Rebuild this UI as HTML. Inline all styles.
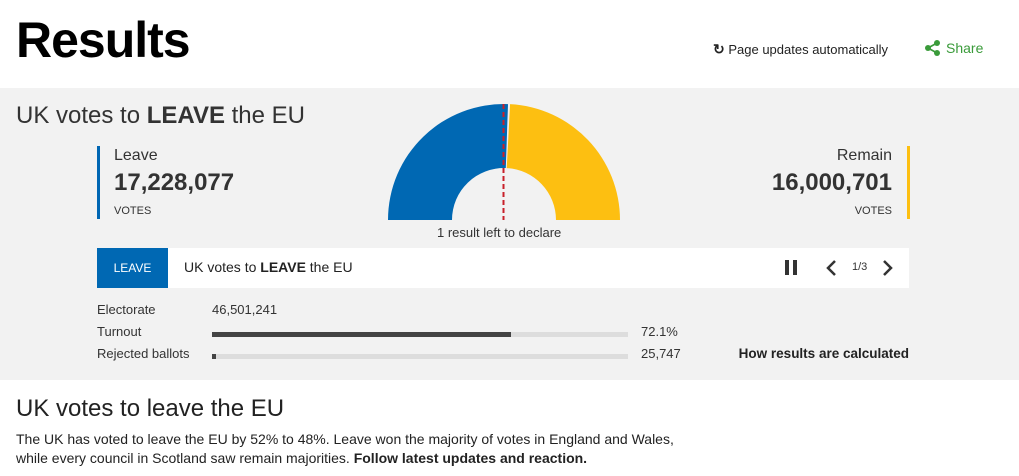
<!DOCTYPE html>
<html><head><meta charset="utf-8"><style>
*{margin:0;padding:0;box-sizing:border-box}
body{width:1019px;height:476px;background:#fff;font-family:"Liberation Sans",Arial,sans-serif;color:#222;position:relative;overflow:hidden}
.a{position:absolute;white-space:nowrap}
</style></head><body>
<div class="a" style="left:16px;top:11px;font-size:50px;font-weight:bold;color:#000;letter-spacing:-1px">Results</div>
<div class="a" style="left:713px;top:41px;font-size:13px;color:#222"><span style="font-weight:bold;font-size:14px">&#x21BB;</span> Page updates automatically</div>
<svg class="a" style="left:924px;top:39px" width="18" height="18" viewBox="0 0 18 18"><g fill="#3a9b3a" stroke="#3a9b3a" stroke-width="1.6"><line x1="4" y1="9" x2="13" y2="4"/><line x1="4" y1="9" x2="13" y2="14"/><circle cx="4" cy="9" r="3" stroke="none"/><circle cx="13" cy="4" r="3" stroke="none"/><circle cx="13" cy="14" r="3" stroke="none"/></g></svg>
<div class="a" style="left:946px;top:40px;font-size:14px;color:#3a9b3a">Share</div>

<div class="a" style="left:0;top:88px;width:1019px;height:292px;background:#f2f2f2"></div>
<div class="a" style="left:16px;top:102px;font-size:24px;color:#333">UK votes to <b>LEAVE</b> the EU</div>

<div class="a" style="left:97px;top:146px;width:3px;height:73px;background:#0066b3"></div>
<div class="a" style="left:114px;top:147px;font-size:16px;color:#333">Leave</div>
<div class="a" style="left:114px;top:169px;font-size:24px;font-weight:bold;color:#333">17,228,077</div>
<div class="a" style="left:114px;top:205px;font-size:11px;color:#333">VOTES</div>

<div class="a" style="left:907px;top:146px;width:3px;height:73px;background:#fdbf11"></div>
<div class="a" style="right:127px;top:147px;font-size:16px;color:#333">Remain</div>
<div class="a" style="right:127px;top:169px;font-size:24px;font-weight:bold;color:#333">16,000,701</div>
<div class="a" style="right:127px;top:205px;font-size:11px;color:#333">VOTES</div>

<svg class="a" style="left:0;top:0" width="1019" height="240">
<path d="M388 220 A116 116 0 0 1 508.0 104.07 L505.8 168.03 A52 52 0 0 0 452 220 Z" fill="#0068b3"/>
<path d="M510.07 104.16 A116 116 0 0 1 620 220 L556 220 A52 52 0 0 0 506.72 168.07 Z" fill="#fdbf11"/>
<line x1="503.5" y1="104" x2="503.5" y2="220" stroke="#c8202a" stroke-width="2" stroke-dasharray="5,3"/>
</svg>
<div class="a" style="left:437px;top:225px;font-size:13px;color:#333">1 result left to declare</div>

<div class="a" style="left:97px;top:248px;width:812px;height:40px;background:#fff"></div>
<div class="a" style="left:97px;top:248px;width:71px;height:40px;background:#0068b3;color:#fff;font-size:12px;line-height:40px;text-align:center">LEAVE</div>
<div class="a" style="left:184px;top:259px;font-size:14px;color:#222">UK votes to <b>LEAVE</b> the EU</div>
<div class="a" style="left:785px;top:260px;width:4px;height:15px;background:#333"></div>
<div class="a" style="left:793px;top:260px;width:4px;height:15px;background:#333"></div>
<svg class="a" style="left:822px;top:258px" width="76" height="20"><polyline points="13,3 6,10 13,17" fill="none" stroke="#333" stroke-width="2.5"/><polyline points="62,3 69,10 62,17" fill="none" stroke="#333" stroke-width="2.5"/></svg>
<div class="a" style="left:852px;top:261px;font-size:11px;color:#333">1/3</div>

<div class="a" style="left:97px;top:302px;font-size:13px;color:#333">Electorate</div>
<div class="a" style="left:212px;top:302px;font-size:13px;color:#333">46,501,241</div>
<div class="a" style="left:97px;top:324px;font-size:13px;color:#333">Turnout</div>
<div class="a" style="left:212px;top:332px;width:416px;height:5px;background:#ddd"></div>
<div class="a" style="left:212px;top:332px;width:299px;height:5px;background:#444"></div>
<div class="a" style="left:641px;top:324px;font-size:13px;color:#333">72.1%</div>
<div class="a" style="left:97px;top:346px;font-size:13px;color:#333">Rejected ballots</div>
<div class="a" style="left:212px;top:354px;width:416px;height:5px;background:#ddd"></div>
<div class="a" style="left:212px;top:354px;width:4px;height:5px;background:#444"></div>
<div class="a" style="left:641px;top:346px;font-size:13px;color:#333">25,747</div>
<div class="a" style="right:110px;top:346px;font-size:13.5px;font-weight:bold;color:#222">How results are calculated</div>

<div class="a" style="left:16px;top:395px;font-size:24px;color:#222">UK votes to leave the EU</div>
<div class="a" style="left:16px;top:430px;font-size:14px;line-height:19px;color:#222">The UK has voted to leave the EU by 52% to 48%. Leave won the majority of votes in England and Wales,<br>while every council in Scotland saw remain majorities. <b>Follow latest updates and reaction.</b></div>
</body></html>
